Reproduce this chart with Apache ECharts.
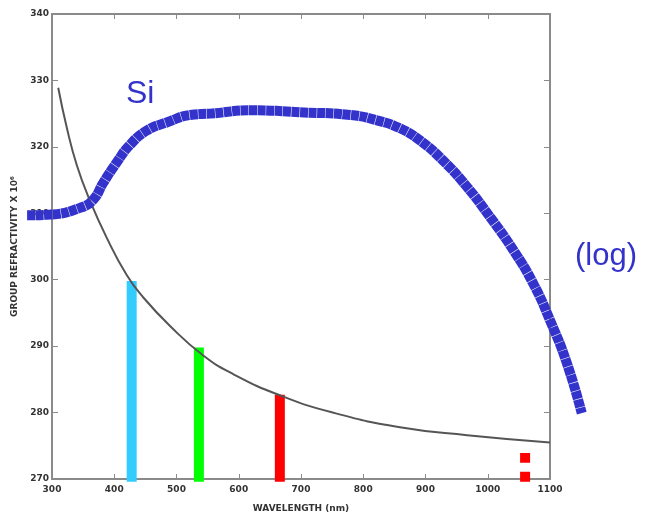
<!DOCTYPE html>
<html>
<head>
<meta charset="utf-8">
<script src="https://cdn.jsdelivr.net/npm/echarts@6/dist/echarts.min.js"></script>
<style>html,body{margin:0;padding:0;background:#fff;}#c{width:651px;height:518px;}</style>
</head>
<body>
<div id="c"></div>
<script>
// Gray curve: group refractivity x 10^6 vs wavelength (nm)
const grayWavelength = [310, 324, 340, 361, 388, 420, 446, 490, 543, 591, 666, 751, 859, 967, 1100];
const grayValue      = [328.9, 322.8, 317.2, 311.9, 306.3, 300.7, 297.4, 293.0, 288.6, 285.8, 282.6, 280.0, 277.8, 276.6, 275.5];

// Blue "Si" curve (log)
const siWavelength = [260, 297, 345, 366, 382, 404, 425, 453, 485, 522, 554, 623, 698, 779, 822, 859, 891, 928, 967, 1004, 1041, 1073, 1100, 1127, 1151];
const siValue      = [309.9, 310.0, 311.0, 312.2, 314.7, 317.8, 320.4, 322.6, 323.8, 324.9, 325.1, 325.6, 325.3, 324.9, 324.1, 322.9, 321.1, 318.1, 314.1, 309.6, 304.7, 299.7, 294.2, 287.8, 280.3];

// Vertical laser bars
const barWavelength = [428, 536, 666, 1060];
const barTop        = [299.8, 289.8, 282.7, 273.9];
const barColor      = ['#33ccff', '#00ff00', '#ff0000', '#ff0000'];
const barDashed     = [false, false, false, true];

const xTicks = { min: 300, max: 1100, interval: 100 };
const yTicks = { min: 270, max: 340, interval: 10 };
// wider hidden range for the Si curve that runs past the frame
const siRange = { min: 250, max: 1160 };

const chart = echarts.init(document.getElementById('c'));

const frameColor = '#8a8a8a';
const labelStyle = { fontSize: 9, fontWeight: 'bold', color: '#333', fontFamily: 'DejaVu Sans' };

const gridMain = { left: 52, right: 101, top: 14, bottom: 36 };
const plotW = 651 - gridMain.left - gridMain.right;
const pxPerNm = plotW / (xTicks.max - xTicks.min);
const gridWide = {
  left: gridMain.left - (xTicks.min - siRange.min) * pxPerNm,
  right: gridMain.right - (siRange.max - xTicks.max) * pxPerNm,
  top: gridMain.top, bottom: gridMain.bottom
};

const series = [];
barWavelength.forEach((w, i) => {
  series.push({
    type: 'line',
    xAxisIndex: 0, yAxisIndex: 0,
    data: [[w, 269.6], [w, barTop[i]]],
    symbol: 'none',
    clip: false,
    z: 3,
    lineStyle: { color: barColor[i], width: 10, cap: 'butt', type: barDashed[i] ? [10, 9] : 'solid' },
    silent: true
  });
});
series.push({
  type: 'line',
  xAxisIndex: 0, yAxisIndex: 0,
  data: grayWavelength.map((w, i) => [w, grayValue[i]]),
  symbol: 'none',
  smooth: 0.5,
  clip: false,
  z: 4,
  lineStyle: { color: '#555', width: 2 },
  silent: true
});
series.push({
  type: 'line',
  xAxisIndex: 2, yAxisIndex: 2,
  data: siWavelength.map((w, i) => [w, siValue[i]]),
  symbol: 'none',
  smooth: 0.5,
  clip: false,
  z: 5,
  lineStyle: { color: '#3333cc', width: 10, cap: 'butt', type: [8, 0.5] },
  silent: true
});

const fmt = v => String(v);

chart.setOption({
  animation: false,
  backgroundColor: '#fff',
  grid: [gridMain, gridWide],
  xAxis: [{
    type: 'value', gridIndex: 0, position: 'bottom', min: xTicks.min, max: xTicks.max, interval: xTicks.interval,
    name: 'WAVELENGTH (nm)', nameLocation: 'middle', nameGap: 25,
    nameTextStyle: Object.assign({}, labelStyle),
    axisLine: { lineStyle: { color: frameColor, width: 2 } },
    axisTick: { inside: true, length: 5, lineStyle: { color: frameColor } },
    axisLabel: Object.assign({ margin: 6, formatter: fmt }, labelStyle),
    splitLine: { show: false }
  }, {
    type: 'value', gridIndex: 0, position: 'top', min: xTicks.min, max: xTicks.max, interval: xTicks.interval,
    axisLine: { lineStyle: { color: frameColor, width: 2 } },
    axisTick: { inside: true, length: 5, lineStyle: { color: frameColor } },
    axisLabel: { show: false },
    splitLine: { show: false }
  }, {
    type: 'value', gridIndex: 1, min: siRange.min, max: siRange.max, show: false
  }],
  yAxis: [{
    type: 'value', gridIndex: 0, position: 'left', min: yTicks.min, max: yTicks.max, interval: yTicks.interval,
    name: 'GROUP REFRACTIVITY X 10⁶', nameLocation: 'middle', nameGap: 32, nameRotate: 90,
    nameTextStyle: Object.assign({}, labelStyle),
    axisLine: { lineStyle: { color: frameColor, width: 2 } },
    axisTick: { inside: true, length: 6, lineStyle: { color: frameColor } },
    axisLabel: Object.assign({ margin: 3, formatter: fmt }, labelStyle),
    splitLine: { show: false }
  }, {
    type: 'value', gridIndex: 0, position: 'right', min: yTicks.min, max: yTicks.max, interval: yTicks.interval,
    axisLine: { lineStyle: { color: frameColor, width: 2 } },
    axisTick: { inside: true, length: 6, lineStyle: { color: frameColor } },
    axisLabel: { show: false },
    splitLine: { show: false }
  }, {
    type: 'value', gridIndex: 1, min: yTicks.min, max: yTicks.max, show: false
  }],
  graphic: [
    { type: 'text', left: 126, top: 78, style: { text: 'Si', font: '32px "Liberation Sans", Arial, sans-serif', fill: '#3333cc' } },
    { type: 'text', left: 575, top: 241, style: { text: '(log)', font: '31px "Liberation Sans", Arial, sans-serif', fill: '#3333cc' } }
  ],
  series: series
});
</script>
</body>
</html>
